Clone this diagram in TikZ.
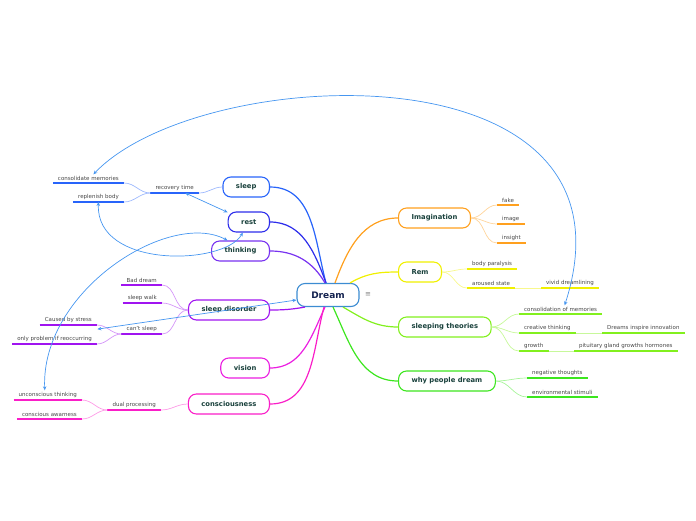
\documentclass[tikz,border=0pt]{standalone}
\usepackage{fontspec}
\setmainfont{DejaVu Sans}
\usepackage{xcolor}
\usepackage{tikz}
\usetikzlibrary{arrows.meta, positioning}

\definecolor{dreamblue}{RGB}{60,140,210}
\definecolor{sleepblue}{RGB}{40,100,250}
\definecolor{restblue}{RGB}{45,45,235}
\definecolor{thinkviolet}{RGB}{120,50,240}
\definecolor{disorderpurple}{RGB}{160,20,240}
\definecolor{visionpink}{RGB}{235,30,225}
\definecolor{conscpink}{RGB}{250,30,200}
\definecolor{imagorange}{RGB}{255,160,30}
\definecolor{remyellow}{RGB}{240,240,0}
\definecolor{theorygreen}{RGB}{130,240,30}
\definecolor{whygreen}{RGB}{60,230,30}
\definecolor{linkblue}{RGB}{70,150,240}
\definecolor{topictext}{RGB}{25,65,60}
\definecolor{subtext}{RGB}{70,70,70}

\begin{document}
\begin{tikzpicture}[
        x=1pt, y=-1pt,
        central/.style={draw=dreamblue, rounded corners=8pt, line width=1.1pt, fill=white, minimum width=62pt, minimum height=23pt, font=\fontsize{9}{10}\selectfont\bfseries, text={rgb,255:red,20;green,35;blue,80}},
        topic/.style={draw=#1, rounded corners=8pt, line width=1.1pt, fill=white, minimum height=20pt, inner xsep=13pt, font=\fontsize{6.8}{7.5}\selectfont\bfseries, text=topictext},
        subtopic/.style={inner xsep=5pt, inner ysep=2pt, font=\fontsize{5.5}{6}\selectfont, text=subtext,
            append after command={(\tikzlastnode.south west) edge[line width=1.3pt, draw=#1] (\tikzlastnode.south east)}},
        branch/.style={draw=#1, line width=1.2pt},
        twig/.style={draw=#1!45, line width=0.7pt},
        link/.style={draw=linkblue, line width=0.7pt, {Stealth[length=4pt,width=3.5pt]}-{Stealth[length=4pt,width=3.5pt]}}
    ]
        \useasboundingbox (0,0) rectangle (696,520);

        % central topic
        \node (dream) [central] at (328,295) {Dream};
        \node (menu) [right=2pt of dream, text=gray, font=\fontsize{7}{8}\selectfont] {≡};

        % left topics
        \node (sleep) [topic=sleepblue, anchor=east] at (270,187) {sleep};
        \node (rest) [topic=restblue, anchor=east] at (270,222) {rest};
        \node (thinking) [topic=thinkviolet, anchor=east] at (270,251) {thinking};
        \node (disorder) [topic=disorderpurple, anchor=east] at (270,310) {sleep disorder};
        \node (vision) [topic=visionpink, anchor=east] at (270,368) {vision};
        \node (consc) [topic=conscpink, anchor=east] at (270,404) {consciousness};

        % right topics
        \node (imag) [topic=imagorange, anchor=west] at (398,218) {Imagination};
        \node (rem) [topic=remyellow, anchor=west] at (398,272) {Rem};
        \node (theories) [topic=theorygreen, anchor=west] at (398,327) {sleeping theories};
        \node (why) [topic=whygreen, anchor=west] at (398,381) {why people dream};

        % subtopics, left
        \node (recovery) [subtopic=sleepblue, anchor=south east] at (199,193) {recovery time};
        \node (cons_mem) [subtopic=sleepblue, anchor=south east] at (124,183) {consolidate memories};
        \node (replenish) [subtopic=sleepblue, anchor=south east] at (124,202) {replenish body};
        \node (bad_dream) [subtopic=disorderpurple, anchor=south east] at (162,285) {Bad dream};
        \node (sleep_walk) [subtopic=disorderpurple, anchor=south east] at (162,303) {sleep walk};
        \node (cant_sleep) [subtopic=disorderpurple, anchor=south east] at (162,334) {can't sleep};
        \node (stress) [subtopic=disorderpurple, anchor=south east] at (97,325) {Caused by stress};
        \node (reoccur) [subtopic=disorderpurple, anchor=south east] at (97,344) {only problem if reoccurring};
        \node (dual) [subtopic=conscpink, anchor=south east] at (161,410) {dual processing};
        \node (unconscious) [subtopic=conscpink, anchor=south east] at (82,400) {unconscious thinking};
        \node (awareness) [subtopic=conscpink, anchor=south east] at (82,419) {conscious awarness};

        % subtopics, right
        \node (fake) [subtopic=imagorange, anchor=south west] at (497,205) {fake};
        \node (image) [subtopic=imagorange, anchor=south west] at (497,224) {image};
        \node (insight) [subtopic=imagorange, anchor=south west] at (497,243) {insight};
        \node (paralysis) [subtopic=remyellow, anchor=south west] at (467,269) {body paralysis};
        \node (aroused) [subtopic=remyellow, anchor=south west] at (467,288) {aroused state};
        \node (vivid) [subtopic=remyellow, anchor=south west] at (541,288) {vivid dreamlining};
        \node (consolidation) [subtopic=theorygreen, anchor=south west] at (519,314) {consolidation of memories};
        \node (creative) [subtopic=theorygreen, anchor=south west] at (519,333) {creative thinking};
        \node (innovation) [subtopic=theorygreen, anchor=south west] at (602,333) {Dreams inspire innovation};
        \node (growth) [subtopic=theorygreen, anchor=south west] at (519,351) {growth};
        \node (pituitary) [subtopic=theorygreen, anchor=south west] at (574,351) {pituitary gland growths hormones};
        \node (negative) [subtopic=whygreen, anchor=south west] at (527,378) {negative thoughts};
        \node (stimuli) [subtopic=whygreen, anchor=south west] at (527,397) {environmental stimuli};

        % branches
        \draw [branch=sleepblue] ([xshift=-2pt]dream.north) to[out=105, in=0] (sleep.east);
        \draw [branch=restblue] ([xshift=-2pt]dream.north) to[out=110, in=0] (rest.east);
        \draw [branch=thinkviolet] ([xshift=-3pt]dream.north) to[out=120, in=0] (thinking.east);
        \draw [branch=disorderpurple] ([xshift=-23pt]dream.south) to[out=190, in=0] (disorder.east);
        \draw [branch=visionpink] ([xshift=-3pt]dream.south) to[out=245, in=0] (vision.east);
        \draw [branch=conscpink] ([xshift=-4pt]dream.south) to[out=255, in=0] (consc.east);
        \draw [branch=imagorange] ([xshift=7pt]dream.north) to[out=70, in=180] (imag.west);
        \draw [branch=remyellow] ([xshift=22pt]dream.north) to[out=30, in=180] (rem.west);
        \draw [branch=theorygreen] ([xshift=15pt]dream.south) to[out=-30, in=180] (theories.west);
        \draw [branch=whygreen] ([xshift=5pt]dream.south) to[out=-65, in=180] (why.west);

        % twigs, left
        \draw [twig=sleepblue] (sleep.west) to[out=180, in=0] (recovery.south east);
        \draw [twig=sleepblue] (recovery.south west) to[out=180, in=0] (cons_mem.south east);
        \draw [twig=sleepblue] (recovery.south west) to[out=180, in=0] (replenish.south east);
        \draw [twig=disorderpurple] (disorder.west) to[out=180, in=0] (bad_dream.south east);
        \draw [twig=disorderpurple] (disorder.west) to[out=180, in=0] (sleep_walk.south east);
        \draw [twig=disorderpurple] (disorder.west) to[out=180, in=0] (cant_sleep.south east);
        \draw [twig=disorderpurple] (cant_sleep.south west) to[out=180, in=0] (stress.south east);
        \draw [twig=disorderpurple] (cant_sleep.south west) to[out=180, in=0] (reoccur.south east);
        \draw [twig=conscpink] (consc.west) to[out=180, in=0] (dual.south east);
        \draw [twig=conscpink] (dual.south west) to[out=180, in=0] (unconscious.south east);
        \draw [twig=conscpink] (dual.south west) to[out=180, in=0] (awareness.south east);

        % twigs, right
        \draw [twig=imagorange] (imag.east) to[out=0, in=180] (fake.south west);
        \draw [twig=imagorange] (imag.east) to[out=0, in=180] (image.south west);
        \draw [twig=imagorange] (imag.east) to[out=0, in=180] (insight.south west);
        \draw [twig=remyellow] (rem.east) to[out=0, in=180] (paralysis.south west);
        \draw [twig=remyellow] (rem.east) to[out=0, in=180] (aroused.south west);
        \draw [twig=remyellow] (aroused.south east) -- (vivid.south west);
        \draw [twig=theorygreen] (theories.east) to[out=0, in=180] (consolidation.south west);
        \draw [twig=theorygreen] (theories.east) to[out=0, in=180] (creative.south west);
        \draw [twig=theorygreen] (theories.east) to[out=0, in=180] (growth.south west);
        \draw [twig=theorygreen] (creative.south east) -- (innovation.south west);
        \draw [twig=theorygreen] (growth.south east) -- (pituitary.south west);
        \draw [twig=whygreen] (why.east) to[out=0, in=180] (negative.south west);
        \draw [twig=whygreen] (why.east) to[out=0, in=180] (stimuli.south west);

        % relationships
        \draw [link] ([xshift=5pt]cons_mem.north) .. controls +(107,-112) and +(85,-263) .. ([xshift=4pt]consolidation.north);
        \draw [link] (recovery) -- (rest);
        \draw [link] (replenish.south) .. controls +(-3,67) and +(-19,33) .. ([xshift=-6pt]rest.south);
        \draw [link] ([xshift=-3pt]unconscious.north) .. controls +(-4,-100) and +(-58,-31) .. ([xshift=-13pt]thinking.north);
        \draw [link] ([xshift=-24pt]cant_sleep.west) -- ([yshift=-5pt]dream.west);
    \end{tikzpicture}
\end{document}
